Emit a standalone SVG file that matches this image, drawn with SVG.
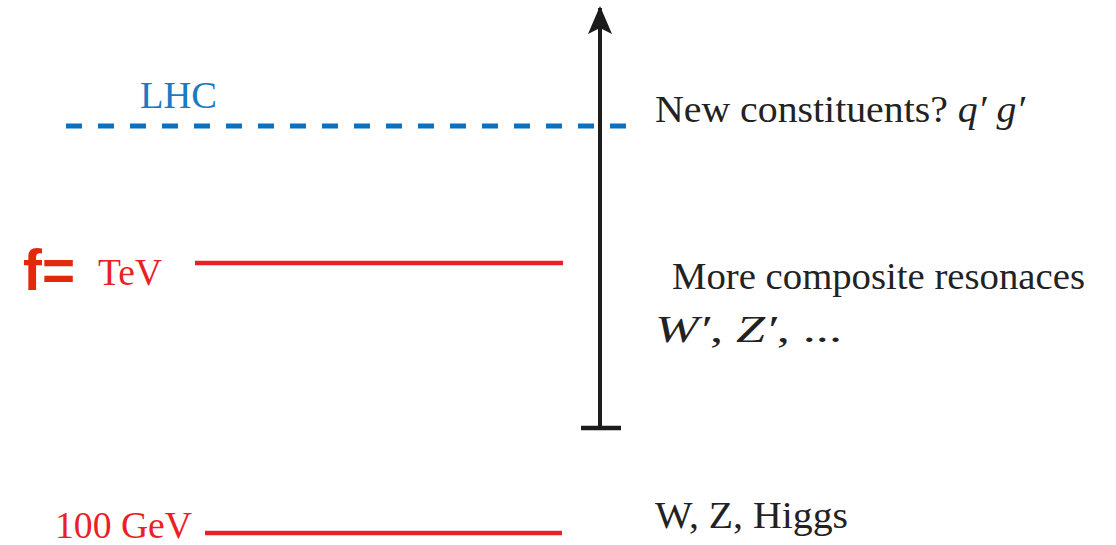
<svg xmlns="http://www.w3.org/2000/svg" width="1116" height="545" viewBox="0 0 1116 545">
<style>
.t{font-family:"Liberation Serif","DejaVu Serif",serif;font-size:37px;fill:#222}
.red{fill:#ea1f27}
.blue{fill:#1a7ac4}
.lvl{stroke:#ea1f27;stroke-width:4.5;fill:none}
.it{font-style:italic}
</style>
<defs>
<marker id="ah" viewBox="0 0 28 24" refX="26" refY="12" markerWidth="28" markerHeight="24" markerUnits="userSpaceOnUse" orient="auto">
<path d="M0,0 L28,12 L0,24 L6,12 Z" fill="#1c1c1c"/>
</marker>
</defs>
<rect width="1116" height="545" fill="#fff"/>
<g id="connectors">
<line x1="600" y1="428" x2="600" y2="8" stroke="#1c1c1c" stroke-width="4" marker-end="url(#ah)"/>
<line x1="581" y1="428" x2="621" y2="428" stroke="#1c1c1c" stroke-width="4.5"/>
</g>
<g id="lhc">
<line x1="66" y1="126" x2="630" y2="126" stroke="#0a70c0" stroke-width="5" stroke-dasharray="16 16"/>
<text class="t blue" x="140" y="108" font-size="34" textLength="77" lengthAdjust="spacingAndGlyphs">LHC</text>
</g>
<g id="tev">
<text x="23" y="290" font-family="'Liberation Sans','Open Sans',sans-serif" font-weight="bold" font-size="58" fill="#e2290c" textLength="52" lengthAdjust="spacingAndGlyphs">f=</text>
<text class="t red" x="98" y="285" font-size="35" textLength="64" lengthAdjust="spacingAndGlyphs">TeV</text>
<line class="lvl" x1="195" y1="263" x2="563" y2="263"/>
</g>
<g id="gev">
<text class="t red" x="55" y="538" font-size="36" textLength="137" lengthAdjust="spacingAndGlyphs">100 GeV</text>
<line class="lvl" x1="205" y1="533" x2="562" y2="533"/>
</g>
<g id="label-new">
<text class="t" x="655" y="122" textLength="370" lengthAdjust="spacingAndGlyphs">New constituents? <tspan class="it">q′ g′</tspan></text>
</g>
<g id="label-composite">
<text class="t" x="672" y="289" textLength="413" lengthAdjust="spacingAndGlyphs">More composite resonaces</text>
<text class="t" x="655" y="342" font-size="39" textLength="187" lengthAdjust="spacingAndGlyphs"><tspan class="it">W′</tspan>,  <tspan class="it">Z′</tspan>,  ...</text>
</g>
<g id="label-sm">
<text class="t" x="655" y="528" textLength="193" lengthAdjust="spacingAndGlyphs">W, Z, Higgs</text>
</g>
</svg>
